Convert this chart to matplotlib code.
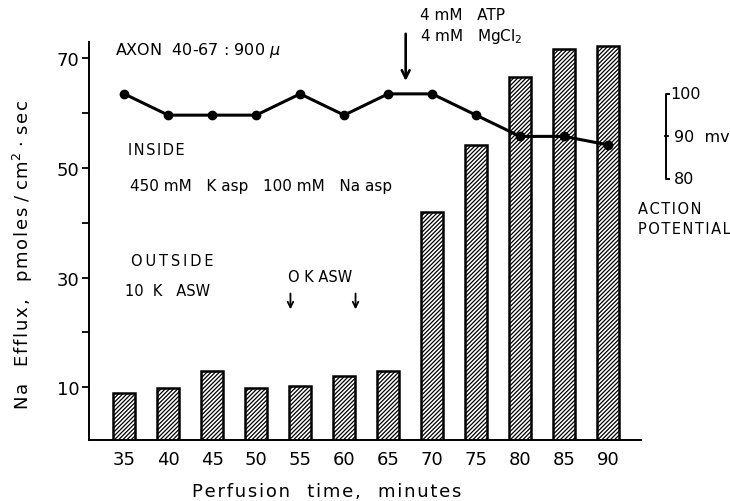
import matplotlib.pyplot as plt
from matplotlib.ticker import MultipleLocator
import numpy as np

plt.rcParams['font.family'] = ['DejaVu Sans']
plt.rcParams['hatch.linewidth'] = 0.9

# perfusion time (minutes) and Na efflux (pmoles/cm2.sec)
minutes = [35, 40, 45, 50, 55, 60, 65, 70, 75, 80, 85, 90]
efflux = [8.9, 9.8, 12.9, 9.8, 10.2, 12.0, 13.0, 42.0, 54.2, 66.5, 71.6, 72.2]
# action potential (mv)
action_mv = [100, 95, 95, 95, 100, 95, 100, 100, 95, 90, 90, 88]

W, H = 730, 502
fig = plt.figure(figsize=(W / 100, H / 100), dpi=100)

def px(x, y):
    return x / W, 1 - y / H

def spaced(s, gap='\u200a'):
    # wide lettering like the original figure
    return gap.join(s)

ax = fig.add_axes([89 / W, (H - 441) / H, (641 - 89) / W, (441 - 43) / H])
ax.bar(minutes, efflux, width=2.5, color='white', edgecolor='black',
       linewidth=1.8, hatch='////////', zorder=2)
ax.set_xlim(31, 93.75)
ax.set_ylim(0.4, 72.9)
ax.set_xticks(minutes)
ax.set_yticks([10, 30, 50, 70])
ax.yaxis.set_minor_locator(MultipleLocator(10))
ax.tick_params(axis='y', which='both', direction='out', length=5, width=1.3,
               labelsize=13, pad=2)
ax.tick_params(axis='x', length=0, labelsize=13, pad=7)
for s in ['top', 'right']:
    ax.spines[s].set_visible(False)
ax.spines['left'].set_linewidth(1.4)
ax.spines['bottom'].set_linewidth(1.4)
ax.set_xlabel(spaced('Perfusion') + '   ' + spaced('time,') + '   ' + spaced('minutes'),
              fontsize=13)
ax.xaxis.set_label_coords((327 - 89) / (641 - 89), -0.105)
ax.set_ylabel(spaced('Na') + '   ' + spaced('Efflux,') + '   ' + spaced('pmoles')
              + ' / ' + spaced('cm') + '$^2$ · ' + spaced('sec'), fontsize=13)
ax.yaxis.set_label_coords(-0.097, (441 - 255) / (441 - 43))

# action potential on its own scale
ax2 = ax.twinx()
ax2.set_ylim(18.6, 112.2)
ax2.plot(minutes, action_mv, color='black', lw=2.2, marker='o', ms=6, zorder=3,
         clip_on=False)
ax2.axis('off')

# scale bracket for the action potential
bx, tk = 96.6, 0.35
ax2.plot([bx + tk, bx, bx, bx + tk], [100, 100, 80, 80], color='black', lw=1.4,
         clip_on=False)
ax2.plot([bx - 0.1, bx + 0.25], [90, 90], color='black', lw=1.3, clip_on=False)
ax2.text(bx + 0.45, 100, '100', fontsize=11.5, va='center', ha='left')
ax2.text(bx + 0.9, 90, '90  mv', fontsize=11.5, va='center', ha='left')
ax2.text(bx + 0.9, 80, '80', fontsize=11.5, va='center', ha='left')

# labels
fig.text(*px(115, 51), 'AXON  40-67 : 900 $\\mu$', fontsize=11.5, va='center')
fig.text(*px(128, 151), spaced('INSIDE'), fontsize=10.5, va='center')
fig.text(*px(130, 187), '450 mM   K asp   100 mM   Na asp', fontsize=11, va='center')
fig.text(*px(131, 262), spaced('OUTSIDE', '\u2009'), fontsize=10.5, va='center')
fig.text(*px(125, 292), '10  K   ASW', fontsize=10.5, va='center')
fig.text(*px(288, 278), 'O K ASW', fontsize=10.5, va='center')
fig.text(*px(420, 15), '4 mM   ATP', fontsize=11, va='center')
fig.text(*px(420, 37), '4 mM   MgCl$_2$', fontsize=11, va='center')
fig.text(*px(638, 210), spaced('ACTION'), fontsize=10.5, va='center')
fig.text(*px(638, 229), spaced('POTENTIAL'), fontsize=10.5, va='center')

# arrows
arrow = dict(arrowstyle='->', color='black', lw=1.3, mutation_scale=10)
ax.annotate('', xy=(53.9, 23.7), xytext=(53.9, 27.6), arrowprops=arrow)
ax.annotate('', xy=(61.3, 23.7), xytext=(61.3, 27.6), arrowprops=arrow)
ax.annotate('', xy=(67.0, 65.3), xytext=(67.0, 74.9), annotation_clip=False,
            arrowprops=dict(arrowstyle='->', color='black', lw=1.9, mutation_scale=14))

fig.savefig('out.png', dpi=100)
